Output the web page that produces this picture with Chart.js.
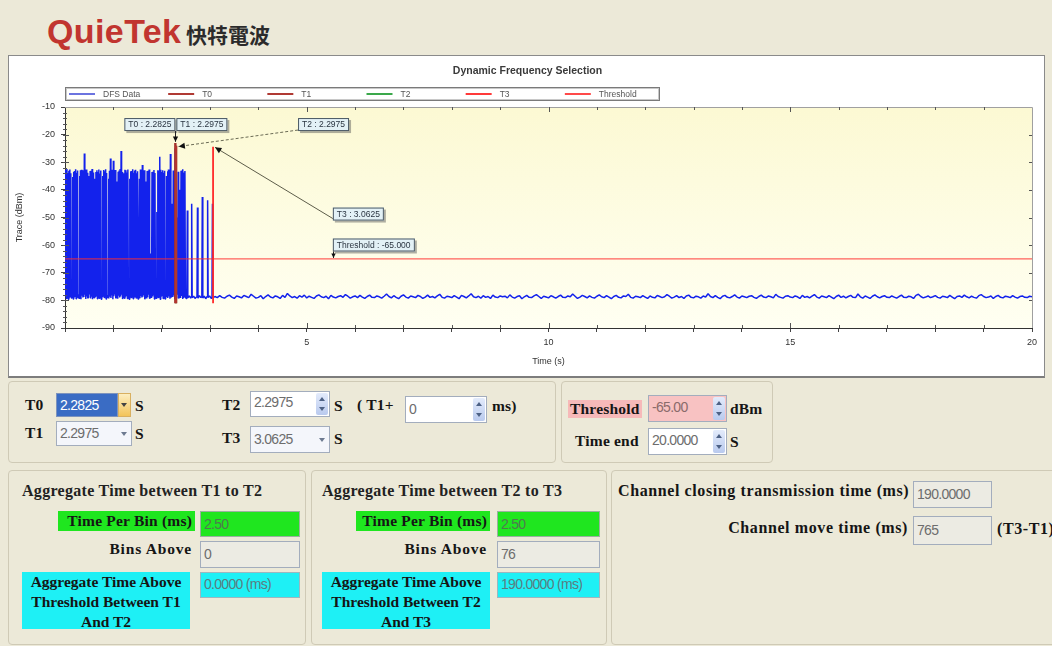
<!DOCTYPE html>
<html><head><meta charset="utf-8">
<script src="https://cdn.jsdelivr.net/npm/chart.js@4.4.1/dist/chart.umd.min.js"></script>
<style>
html,body{margin:0;padding:0;}
body{width:1052px;height:646px;background:#ece9d8;position:relative;overflow:hidden;font-family:'Liberation Serif',serif;}
#logo{position:absolute;left:47px;top:11px;font:bold 34px 'Liberation Sans',sans-serif;color:#c1352f;letter-spacing:0.4px;line-height:40px;}
#logocn{position:absolute;left:186px;top:21px;font:bold 21px 'Noto Sans CJK TC',sans-serif;color:#2b2b2b;line-height:26px;}
#panel{position:absolute;left:8px;top:55px;width:1037px;height:323px;background:#fff;border:1px solid #8a8a8a;border-bottom:2px solid #7d7d7d;box-sizing:border-box;}
#panel canvas{position:absolute;left:0;top:0;}
.grp{position:absolute;border:1px solid #cfcab6;border-radius:4px;box-sizing:border-box;}
.lb{position:absolute;font:bold 15.5px 'Liberation Serif',serif;color:#151515;white-space:nowrap;line-height:16px;letter-spacing:0.2px;}
.tt{position:absolute;font:bold 16px 'Liberation Serif',serif;color:#222;white-space:nowrap;line-height:16px;letter-spacing:0.3px;}
.ch{letter-spacing:0.6px;font-size:16px;}
.in{position:absolute;box-sizing:border-box;border:1px solid #a3adbd;background:#fff;font:14px 'Liberation Sans',sans-serif;color:#6d6d6d;padding:0 0 0 3px;letter-spacing:-0.7px;white-space:nowrap;}
.spin{position:absolute;right:1px;top:1px;bottom:1px;width:12px;background:linear-gradient(#e3ebfb,#b9caee);border-radius:2px;}
.spin:before{content:"";position:absolute;left:3px;top:4px;border-left:3px solid transparent;border-right:3px solid transparent;border-bottom:4px solid #4d6185;}
.spin:after{content:"";position:absolute;left:3px;bottom:4px;border-left:3px solid transparent;border-right:3px solid transparent;border-top:4px solid #4d6185;}
.dd{position:absolute;right:4px;top:50%;margin-top:-2px;border-left:3px solid transparent;border-right:3px solid transparent;border-top:4px solid #6d7a90;}
.cen{text-align:center;}
</style></head>
<body>
<div id="logo">QuieTek</div>
<div id="logocn">快特電波</div>
<div id="panel"><canvas id="c" width="1035" height="320"></canvas></div>

<div class="grp" style="left:8px;top:381px;width:548px;height:82px;"></div>
<div class="grp" style="left:561px;top:381px;width:212px;height:82px;"></div>
<div class="grp" style="left:8px;top:470px;width:298px;height:175px;"></div>
<div class="grp" style="left:311px;top:470px;width:296px;height:175px;"></div>
<div class="grp" style="left:611px;top:470px;width:460px;height:175px;"></div>

<div class="lb" style="left:25px;top:397px;">T0</div>
<div class="in" style="left:56px;top:393px;width:62px;height:24px;background:#3a6cc4;border-color:#7d93bd;color:#fff;line-height:22px;">2.2825</div>
<div class="in" style="left:118px;top:393px;width:13px;height:24px;background:linear-gradient(#fdeec0,#f3c45a);border-color:#d9b060;padding:0;"><div class="dd" style="border-top-color:#444;right:3px;"></div></div>
<div class="lb" style="left:135px;top:398px;">S</div>

<div class="lb" style="left:25px;top:425px;">T1</div>
<div class="in" style="left:56px;top:421px;width:76px;height:25px;line-height:23px;background:#f4f6fb;">2.2975<div class="dd"></div></div>
<div class="lb" style="left:135px;top:426px;">S</div>

<div class="lb" style="left:222px;top:397px;">T2</div>
<div class="in" style="left:250px;top:391px;width:80px;height:26px;line-height:20px;">2.2975<div class="spin"></div></div>
<div class="lb" style="left:334px;top:398px;">S</div>
<div class="lb" style="left:357px;top:397px;">( T1+</div>
<div class="in" style="left:405px;top:396px;width:82px;height:27px;line-height:25px;">0<div class="spin"></div></div>
<div class="lb" style="left:492px;top:398px;">ms)</div>

<div class="lb" style="left:222px;top:430px;">T3</div>
<div class="in" style="left:250px;top:426px;width:80px;height:27px;line-height:25px;background:#f4f6fb;">3.0625<div class="dd"></div></div>
<div class="lb" style="left:334px;top:431px;">S</div>

<div class="lb" style="left:568px;top:400px;background:#f6b9b9;padding:1px 2px;">Threshold</div>
<div class="in" style="left:648px;top:395px;width:79px;height:27px;line-height:22px;background:#f8c2c2;color:#8a6b6b;">-65.00<div class="spin"></div></div>
<div class="lb" style="left:730px;top:401px;">dBm</div>
<div class="lb" style="left:575px;top:433px;">Time end</div>
<div class="in" style="left:648px;top:428px;width:79px;height:27px;line-height:22px;">20.0000<div class="spin"></div></div>
<div class="lb" style="left:730px;top:434px;">S</div>

<div class="tt" style="left:22px;top:483px;">Aggregate Time between T1 to T2</div>
<div class="lb" style="left:58px;top:511px;width:137px;height:20px;line-height:19px;background:#1fe61f;text-align:right;padding-right:3px;box-sizing:border-box;">Time Per Bin (ms)</div>
<div class="in" style="left:200px;top:511px;width:100px;height:26px;line-height:24px;background:#1fe61f;border-color:#9bb0a0;color:#4f7a4f;">2.50</div>
<div class="lb" style="left:60px;top:541px;width:135px;text-align:right;padding-right:3px;box-sizing:border-box;letter-spacing:0.8px;">Bins Above</div>
<div class="in" style="left:200px;top:541px;width:100px;height:27px;line-height:25px;background:#ecebe3;">0</div>
<div class="lb cen" style="left:22px;top:572px;width:168px;height:57px;background:#1ef0f5;line-height:20px;box-sizing:border-box;letter-spacing:0;">Aggregate Time Above<br>Threshold Between T1<br>And T2</div>
<div class="in" style="left:200px;top:572px;width:100px;height:26px;line-height:22px;background:#1ef0f5;border-color:#9bb7bf;color:#5b7c80;">0.0000 (ms)</div>

<div class="tt" style="left:322px;top:483px;">Aggregate Time between T2 to T3</div>
<div class="lb" style="left:356px;top:511px;width:134px;height:20px;line-height:19px;background:#1fe61f;text-align:right;padding-right:3px;box-sizing:border-box;">Time Per Bin (ms)</div>
<div class="in" style="left:497px;top:511px;width:103px;height:26px;line-height:24px;background:#1fe61f;border-color:#9bb0a0;color:#4f7a4f;">2.50</div>
<div class="lb" style="left:356px;top:541px;width:134px;text-align:right;padding-right:3px;box-sizing:border-box;letter-spacing:0.8px;">Bins Above</div>
<div class="in" style="left:497px;top:541px;width:103px;height:27px;line-height:25px;background:#ecebe3;">76</div>
<div class="lb cen" style="left:322px;top:572px;width:168px;height:57px;background:#1ef0f5;line-height:20px;box-sizing:border-box;letter-spacing:0;">Aggregate Time Above<br>Threshold Between T2<br>And T3</div>
<div class="in" style="left:497px;top:572px;width:103px;height:26px;line-height:22px;background:#1ef0f5;border-color:#9bb7bf;color:#5b7c80;">190.0000 (ms)</div>

<div class="lb ch" style="left:618px;top:483px;">Channel closing transmission time (ms)</div>
<div class="in" style="left:913px;top:481px;width:79px;height:27px;line-height:25px;background:#ecebe3;">190.0000</div>
<div class="lb ch" style="left:600px;top:520px;width:308px;text-align:right;">Channel move time (ms)</div>
<div class="in" style="left:913px;top:516px;width:79px;height:29px;line-height:27px;background:#ecebe3;">765</div>
<div class="lb ch" style="left:997px;top:521px;">(T3-T1)</div>

<script>
// ---------- data ----------
const seriesLabels = ['DFS Data', 'T0', 'T1', 'T2', 'T3', 'Threshold'];
const burstStep = 0.01; // s between samples in the burst section
// burst peaks (even samples)
const burstHigh = [-32.8,-33.5,-32.4,-33.9,-33.1,-32.6,-34.0,-79,-35.3,-33.4,
 -33.2,-32.5,-33.8,-33.0,-79,-35.0,-32.9,-32.7,-33.6,-32.9,
 -26.8,-33.4,-32.6,-33.8,-79,-35.0,-33.2,-33.1,-32.4,-33.7,
 -79,-36.0,-33.5,-32.9,-33.5,-32.6,-34.1,-33.0,-79,-35.0,
 -32.8,-33.3,-32.5,-33.9,-79,-36.0,-33.1,-28.6,-33.2,-32.7,
 -29.5,-33.6,-32.8,-79,-37.0,-33.4,-33.0,-32.4,-25.9,-33.5,
 -79,-34.0,-32.7,-32.9,-33.7,-32.6,-79,-36.0,-33.3,-33.2,
 -32.5,-33.8,-33.0,-32.7,-34.0,-33.3,-79,-36.0,-32.6,-32.8,
 -31.0,-33.6,-32.9,-79,-37.0,-33.2,-33.1,-32.6,-79,-63.0,
 -33.5,-33.4,-32.8,-33.9,-79,-48.0,-32.9,-33.0,-28.0,-32.7,
 -33.5,-32.9,-33.8,-33.1,-79,-35.0,-33.3,-32.6,-33.4,-27.0,
 -79,-45.0,-33.0,-33.2,-25.0,-79,-50.0,-33.4,-79,-40.0,
 -33.1,-33.0,-32.5,-33.7,-33.2];
// burst troughs (odd samples)
const burstLow = [-78.6,-79.3,-78.1,-79.6,-78.8,-77.9,-79.1,-78.4,-79.5,-78.7,
 -78.2,-79.4,-78.9,-77.8,-79.2,-78.5,-79.6,-78.3,-79.0,-78.8,
 -78.0,-79.5,-78.6,-79.2,-78.4,-77.9,-79.3,-78.7,-79.6,-78.2,
 -79.1,-78.5,-78.0,-79.4,-78.8,-79.2,-78.3,-79.6,-78.6,-77.8,
 -79.0,-78.4,-79.5,-78.9,-78.1,-79.3,-78.7,-79.1,-78.2,-79.6,
 -78.5,-77.9,-79.2,-78.8,-79.4,-78.3,-79.0,-78.6,-78.0,-79.5,
 -78.9,-79.2,-78.4,-77.8,-79.3,-78.7,-79.6,-78.1,-79.0,-78.5,
 -79.4,-78.8,-78.2,-79.1,-78.6,-79.5,-77.9,-79.2,-78.4,-79.0,
 -78.7,-78.1,-79.6,-78.5,-79.3,-78.9,-78.0,-79.4,-78.3,-79.1,
 -78.6,-77.8,-79.5,-78.8,-79.2,-78.2,-79.0,-78.7,-79.6,-78.4,
 -78.1,-79.3,-78.9,-79.5,-78.5,-77.9,-79.1,-78.6,-79.4,-78.3,
 -79.0,-78.8,-78.2,-79.6,-78.5,-79.2,-78.0,-79.3,-78.7,-79.1,
 -78.4,-79.5,-78.9,-78.6];
// sparse pulses after the burst
const sparseTime = [2.49,2.51,2.52,2.53,2.54,2.57,2.60,2.61,2.62,2.63,2.66,2.69,2.72,2.73,2.74,2.75,
 2.78,2.81,2.83,2.84,2.85,2.88,2.91,2.94,2.95,2.96,2.99,3.02,3.04,3.05,3.06];
const sparseLevel = [-78.9,-79.3,-78.6,-47.5,-79.1,-78.4,-79.2,-78.7,-45.0,-79.0,-78.5,-79.3,-78.8,-78.6,-46.4,-79.2,
 -78.3,-79.0,-78.7,-42.6,-79.1,-78.5,-79.4,-78.6,-43.8,-79.0,-78.4,-79.2,-78.8,-45.0,-79.1];
// noise floor from 3.10 s to 20 s
const tailStart = 3.1, tailStep = 0.05;
const tailLevel = [
 -78.6,-79.0,-78.3,-78.9,-79.2,-78.5,-78.1,-78.8,-79.3,-78.4,
 -78.7,-79.1,-78.2,-78.6,-79.0,-77.8,-78.5,-79.2,-78.9,-78.3,
 -79.4,-78.6,-78.0,-78.8,-79.1,-78.4,-78.7,-79.3,-78.2,-78.9,
 -77.5,-78.4,-79.0,-78.6,-79.2,-78.3,-78.8,-78.1,-79.1,-78.5,
 -78.9,-79.3,-78.4,-78.0,-78.7,-79.0,-78.5,-79.4,-78.2,-78.8,
 -79.1,-78.6,-78.3,-78.9,-77.9,-78.5,-79.2,-78.7,-78.4,-79.0,
 -78.2,-78.8,-79.3,-78.6,-78.1,-78.9,-79.0,-78.4,-78.7,-79.2,
 -78.5,-77.7,-78.6,-79.1,-78.3,-78.9,-79.4,-78.5,-78.0,-78.8,
 -79.2,-78.4,-78.7,-79.0,-78.2,-78.6,-79.3,-78.8,-78.1,-78.9,
 -78.6,-79.1,-78.4,-77.8,-78.9,-79.2,-78.5,-78.7,-79.0,-78.3,
 -78.8,-79.4,-78.2,-78.6,-79.1,-78.4,-77.6,-78.7,-79.0,-78.5,
 -79.2,-78.3,-78.9,-78.6,-79.3,-78.1,-78.8,-79.0,-78.4,-78.7,
 -78.5,-79.1,-78.0,-78.8,-79.2,-78.6,-78.3,-79.4,-78.7,-78.2,
 -78.9,-79.0,-78.4,-77.9,-78.6,-79.3,-78.5,-78.8,-79.1,-78.3,
 -78.7,-79.2,-78.6,-78.1,-78.9,-79.0,-78.4,-78.7,-77.7,-78.5,
 -79.3,-78.8,-78.2,-78.6,-79.1,-78.4,-78.9,-79.2,-78.5,-78.0,
 -78.7,-79.0,-78.3,-78.8,-79.4,-78.6,-78.2,-78.9,-79.1,-78.4,
 -78.6,-77.8,-78.9,-79.2,-78.5,-78.7,-79.0,-78.3,-78.8,-79.3,
 -78.4,-78.9,-79.1,-78.2,-78.6,-79.0,-78.7,-77.9,-78.5,-79.2,
 -78.8,-78.3,-79.0,-78.6,-79.3,-78.4,-78.1,-78.9,-79.1,-78.5,
 -78.7,-79.2,-78.4,-78.8,-77.6,-78.6,-79.0,-78.3,-78.9,-79.4,
 -78.5,-78.2,-78.9,-79.1,-78.6,-78.0,-78.8,-79.2,-78.4,-78.7,
 -79.0,-78.5,-78.3,-78.9,-79.3,-78.6,-78.1,-78.8,-79.0,-78.4,
 -78.7,-79.1,-77.8,-78.6,-78.9,-79.2,-78.5,-78.3,-78.8,-79.0,
 -78.4,-78.7,-79.3,-78.2,-78.9,-78.6,-79.1,-78.5,-77.9,-78.8,
 -79.2,-78.4,-78.7,-79.0,-78.3,-78.8,-79.4,-78.6,-78.1,-78.9,
 -78.5,-79.1,-78.6,-78.2,-78.9,-79.0,-77.7,-78.7,-79.2,-78.4,
 -78.8,-79.3,-78.5,-78.0,-78.7,-79.1,-78.6,-78.3,-78.9,-79.0,
 -78.4,-78.8,-79.2,-78.6,-78.1,-78.9,-79.0,-78.5,-78.7,-79.3,
 -78.2,-77.8,-78.6,-79.1,-78.8,-78.4,-79.0,-78.7,-78.3,-78.9,
 -79.2,-78.5,-78.7,-79.0,-78.2,-78.8,-79.4,-78.6,-78.4,-78.9,
 -78.1,-78.7,-79.1,-78.5,-78.9,-79.2,-78.3,-77.9,-78.6,-79.0,
 -78.8,-78.4,-79.3,-78.6,-78.2,-78.9,-79.1,-78.5,-78.7,-79.0,
 -78.3,-78.8,-79.2,-78.6,-78.4,-78.9,-79.0,-78.5,-78.7];
// marker times T0..T3 (s) and their line extents (dBm)
const markerTime = [2.2825, 2.2975, 2.2975, 3.0625];
const markerTop = [-23.0, -24.0, -24.0, -24.4];
const markerBottom = -81;
const thresholdLevel = -65;
const timeRange = [0, 20];
const levelRange = [-90, -10];
const xLabelTicks = [5, 10, 15, 20];

// ---------- build ----------
const dfs = [];
for (let k = 0; k < burstHigh.length; k++) {
  dfs.push({x: +(2*k*burstStep).toFixed(3), y: burstHigh[k]});
  if (k < burstLow.length) dfs.push({x: +((2*k+1)*burstStep).toFixed(3), y: burstLow[k]});
}
sparseTime.forEach((t, i) => dfs.push({x: t, y: sparseLevel[i]}));
tailLevel.forEach((v, i) => dfs.push({x: +(tailStart + i*tailStep).toFixed(2), y: v}));

const colors = ['#1322ec', '#a3302b', '#b3352e', '#3ba84b', '#ff2b2b', 'rgba(255,45,45,0.75)'];
const legendColors = ['#6c74e0', '#b03a34', '#b03a34', '#3ba84b', '#ff3a3a', '#ff4a4a'];
const widths = [1.5, 2.4, 2.4, 2, 1.8, 1.2];
const orders = [10, 3, 2, 5, 1, 4];

const datasets = seriesLabels.map((lab, i) => {
  let data;
  if (i === 0) data = dfs;
  else if (i <= 4) data = [{x: markerTime[i-1], y: markerTop[i-1]}, {x: markerTime[i-1], y: markerBottom}];
  else data = [{x: timeRange[0], y: thresholdLevel}, {x: timeRange[1], y: thresholdLevel}];
  return {label: lab, data, borderColor: colors[i], backgroundColor: colors[i], borderWidth: widths[i],
    pointRadius: 0, tension: 0, fill: false, order: orders[i], borderJoinStyle: 'bevel', borderCapStyle: 'butt'};
});

function arrowHead(ctx, x1, y1, x2, y2, size) {
  const a = Math.atan2(y2 - y1, x2 - x1);
  ctx.beginPath();
  ctx.moveTo(x2, y2);
  ctx.lineTo(x2 - size*Math.cos(a - 0.45), y2 - size*Math.sin(a - 0.45));
  ctx.lineTo(x2 - size*Math.cos(a + 0.45), y2 - size*Math.sin(a + 0.45));
  ctx.closePath();
  ctx.fill();
}
function tag(ctx, text, x, y, alignRight) {
  ctx.font = '8.5px "Liberation Sans", Arial, sans-serif';
  const w = Math.round(ctx.measureText(text).width) + 8, h = 13;
  if (alignRight) x = x - w;
  ctx.fillStyle = 'rgba(80,80,80,0.45)';
  ctx.fillRect(x + 2, y + 2, w, h);
  ctx.fillStyle = '#e3f1f6';
  ctx.fillRect(x, y, w, h);
  ctx.strokeStyle = '#4b5863';
  ctx.lineWidth = 1;
  ctx.strokeRect(x + 0.5, y + 0.5, w - 1, h - 1);
  ctx.fillStyle = '#2a3440';
  ctx.textBaseline = 'middle';
  ctx.textAlign = 'left';
  ctx.fillText(text, x + 4, y + h/2 + 0.5);
  return {x, y, w, h};
}

const deco = {
  id: 'deco',
  beforeDraw(c) {
    const {ctx, chartArea: a} = c;
    ctx.save();
    ctx.fillStyle = '#fff';
    ctx.fillRect(0, 0, c.width, c.height);
    const g = ctx.createLinearGradient(0, a.top, 0, a.bottom);
    g.addColorStop(0, '#fcf9d3');
    g.addColorStop(1, '#fffff2');
    ctx.fillStyle = g;
    ctx.fillRect(a.left, a.top, a.right - a.left, a.bottom - a.top);
    ctx.restore();
  },
  afterDraw(c) {
    const {ctx, chartArea: a} = c;
    const xs = c.scales.x, ys = c.scales.y;
    ctx.save();
    // frame
    ctx.strokeStyle = '#a0a0a0';
    ctx.lineWidth = 1;
    ctx.beginPath();
    ctx.moveTo(a.left, a.top + 0.5); ctx.lineTo(a.right + 0.5, a.top + 0.5); ctx.lineTo(a.right + 0.5, a.bottom);
    ctx.stroke();
    // inner ticks
    ctx.strokeStyle = '#555';
    ctx.beginPath();
    for (let t = timeRange[0] + 1; t < timeRange[1]; t++) {
      const px = Math.round(xs.getPixelForValue(t)) + 0.5, L = t % 5 === 0 ? 5 : 3;
      ctx.moveTo(px, a.top); ctx.lineTo(px, a.top + L);
      ctx.moveTo(px, a.bottom); ctx.lineTo(px, a.bottom - L);
    }
    for (let v = levelRange[0] + 2; v < levelRange[1]; v += 2) {
      const py = Math.round(ys.getPixelForValue(v)) + 0.5, L = v % 10 === 0 ? 4 : 2;
      ctx.moveTo(a.left - 2, py); ctx.lineTo(a.left + L, py);
      if (v % 10 === 0) { ctx.moveTo(a.right, py); ctx.lineTo(a.right - 3, py); }
    }
    ctx.stroke();
    // title
    ctx.fillStyle = '#3a3a3a';
    ctx.textAlign = 'center';
    ctx.textBaseline = 'middle';
    ctx.font = 'bold 10.5px "Liberation Sans", Arial, sans-serif';
    ctx.fillText('Dynamic Frequency Selection', c.width/2 + 1, 15);
    // axis titles
    ctx.font = '9px "Liberation Sans", Arial, sans-serif';
    ctx.fillStyle = '#333';
    ctx.fillText('Time (s)', (a.left + a.right)/2, 306);
    ctx.save();
    ctx.translate(11, (a.top + a.bottom)/2);
    ctx.rotate(-Math.PI/2);
    ctx.fillText('Trace (dBm)', 0, 0);
    ctx.restore();
    // legend
    const lx = a.left, ly = 31, lw = 595, lh = 14;
    ctx.fillStyle = '#fff';
    ctx.fillRect(lx, ly, lw, lh);
    ctx.strokeStyle = '#7a7a7a';
    ctx.lineWidth = 1;
    ctx.strokeRect(lx + 0.5, ly + 0.5, lw - 1, lh - 1);
    ctx.strokeStyle = '#c8c8c8';
    ctx.strokeRect(lx + 1.5, ly + 1.5, lw - 3, lh - 3);
    ctx.font = '8.5px "Liberation Sans", Arial, sans-serif';
    ctx.textAlign = 'left';
    const itemW = lw / c.data.datasets.length;
    c.data.datasets.forEach((d, i) => {
      const sx = lx + 4 + i*itemW, sy = ly + lh/2;
      ctx.strokeStyle = legendColors[i];
      ctx.lineWidth = 2;
      ctx.beginPath(); ctx.moveTo(sx, sy); ctx.lineTo(sx + 26, sy); ctx.stroke();
      ctx.fillStyle = '#555';
      ctx.fillText(d.label, sx + 34, sy + 0.5);
    });
    // callouts
    const fmt4 = v => v.toFixed(4);
    const tagTop = ys.getPixelForValue(-14);
    const x0 = xs.getPixelForValue(markerTime[0]);
    const b0 = tag(ctx, 'T0 : ' + fmt4(markerTime[0]), x0, tagTop, true);
    tag(ctx, 'T1 : ' + fmt4(markerTime[1]), x0 + 1, tagTop, false);
    const b2 = tag(ctx, 'T2 : ' + fmt4(markerTime[2]), xs.getPixelForValue(4.82), tagTop, false);
    const b3 = tag(ctx, 'T3 : ' + fmt4(markerTime[3]), xs.getPixelForValue(5.54), ys.getPixelForValue(-46.4), false);
    const bt = tag(ctx, 'Threshold : ' + thresholdLevel.toFixed(3), xs.getPixelForValue(5.54), ys.getPixelForValue(-57.6), false);
    ctx.fillStyle = '#111';
    ctx.strokeStyle = '#222';
    ctx.lineWidth = 1;
    // T0 arrow
    let ax = Math.round(x0) + 0.5, ay1 = b0.y + b0.h, ay2 = ys.getPixelForValue(-22.6);
    ctx.beginPath(); ctx.moveTo(ax, ay1); ctx.lineTo(ax, ay2); ctx.stroke();
    arrowHead(ctx, ax, ay1, ax, ay2, 6);
    // T2 arrow (dashed)
    let tx = xs.getPixelForValue(markerTime[2]) + 2.5, ty = ys.getPixelForValue(-24.3);
    ctx.strokeStyle = '#6b6b55';
    ctx.setLineDash([3, 2]);
    ctx.beginPath(); ctx.moveTo(b2.x, b2.y + b2.h - 1); ctx.lineTo(tx, ty); ctx.stroke();
    ctx.setLineDash([]);
    arrowHead(ctx, b2.x, b2.y + b2.h - 1, tx, ty, 7);
    // T3 arrow
    tx = xs.getPixelForValue(markerTime[3]) + 2; ty = ys.getPixelForValue(-24.6);
    ctx.strokeStyle = '#5d5d4a';
    ctx.beginPath(); ctx.moveTo(b3.x, b3.y + b3.h - 2); ctx.lineTo(tx, ty); ctx.stroke();
    arrowHead(ctx, b3.x, b3.y + b3.h - 2, tx, ty, 7);
    // threshold arrow
    ax = Math.round(bt.x) + 0.5; ay1 = bt.y + bt.h; ay2 = ys.getPixelForValue(thresholdLevel) - 1;
    ctx.strokeStyle = '#222';
    ctx.beginPath(); ctx.moveTo(ax, ay1); ctx.lineTo(ax, ay2); ctx.stroke();
    arrowHead(ctx, ax, ay1, ax, ay2, 5);
    ctx.restore();
  }
};

new Chart(document.getElementById('c'), {
  type: 'line',
  data: {datasets},
  plugins: [deco],
  options: {
    responsive: false,
    animation: false,
    layout: {padding: {left: 0, top: 51, right: 12, bottom: 0}},
    plugins: {legend: {display: false}, title: {display: false}, tooltip: {enabled: false}},
    scales: {
      x: {
        type: 'linear', min: timeRange[0], max: timeRange[1],
        afterFit(s) { s.height = 48; },
        ticks: {stepSize: 1, autoSkip: false, maxRotation: 0, padding: 5,
          color: '#333', font: {family: '"Liberation Sans", Arial, sans-serif', size: 9},
          callback: v => xLabelTicks.includes(v) ? String(v) : ''},
        grid: {drawOnChartArea: false, drawTicks: true, tickLength: 4, color: '#444'},
        border: {display: true, color: '#333', width: 1}
      },
      y: {
        type: 'linear', min: levelRange[0], max: levelRange[1],
        afterFit(s) { s.width = 56; },
        ticks: {stepSize: 10, padding: 6, color: '#333', font: {family: '"Liberation Sans", Arial, sans-serif', size: 9}},
        grid: {drawOnChartArea: false, drawTicks: true, tickLength: 4, color: '#444'},
        border: {display: true, color: '#333', width: 1}
      }
    }
  }
});
</script>
</body></html>
